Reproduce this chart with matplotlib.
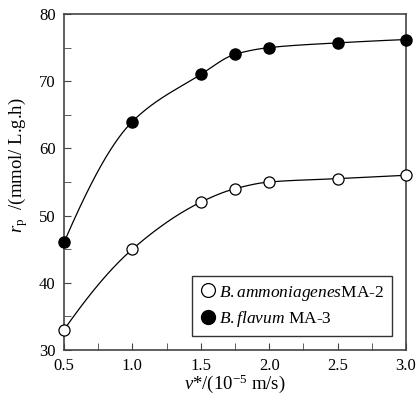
import matplotlib.pyplot as plt
import numpy as np
from matplotlib.ticker import MultipleLocator, FormatStrFormatter

plt.rcParams['font.family'] = ['Liberation Serif', 'DejaVu Serif']
plt.rcParams['mathtext.fontset'] = 'custom'
plt.rcParams['mathtext.rm'] = 'Liberation Serif'
plt.rcParams['mathtext.it'] = 'Liberation Serif:italic'

# Data
velocity = [0.5, 1.0, 1.5, 1.75, 2.0, 2.5, 3.0]
rate_ammoniagenes = [33, 45, 52, 54, 55, 55.5, 56]
rate_flavum = [46, 64, 71, 74, 75, 75.7, 76.2]


def pchip(x, y, xs):
    # monotone cubic (Fritsch-Carlson) for the smooth guide line
    x = np.asarray(x, float)
    y = np.asarray(y, float)
    h = np.diff(x)
    delta = np.diff(y) / h
    n = len(x)
    m = np.zeros(n)
    for i in range(1, n - 1):
        if delta[i - 1] * delta[i] > 0:
            w1 = 2 * h[i] + h[i - 1]
            w2 = h[i] + 2 * h[i - 1]
            m[i] = (w1 + w2) / (w1 / delta[i - 1] + w2 / delta[i])
    m[0] = ((2 * h[0] + h[1]) * delta[0] - h[0] * delta[1]) / (h[0] + h[1])
    m[-1] = ((2 * h[-1] + h[-2]) * delta[-1] - h[-1] * delta[-2]) / (h[-1] + h[-2])
    out = np.zeros_like(xs)
    for k, t in enumerate(xs):
        i = int(np.clip(np.searchsorted(x, t, side='right') - 1, 0, n - 2))
        s = (t - x[i]) / h[i]
        h00 = 2 * s ** 3 - 3 * s ** 2 + 1
        h10 = s ** 3 - 2 * s ** 2 + s
        h01 = -2 * s ** 3 + 3 * s ** 2
        h11 = s ** 3 - s ** 2
        out[k] = h00 * y[i] + h10 * h[i] * m[i] + h01 * y[i + 1] + h11 * h[i] * m[i + 1]
    return out


fig = plt.figure(figsize=(4.18, 4.19), dpi=100)
ax = fig.add_axes([64 / 418, 1 - 350 / 419, 342 / 418, 336 / 419])

xs = np.linspace(velocity[0], velocity[-1], 300)
ax.plot(xs, pchip(velocity, rate_ammoniagenes, xs), color='black', lw=0.9)
ax.plot(xs, pchip(velocity, rate_flavum, xs), color='black', lw=0.9)

ax.plot(velocity, rate_ammoniagenes, 'o', ms=8, mfc='white', mec='black', mew=0.9,
        clip_on=False, zorder=3, label=r'$\mathit{B{.}ammoniagenes}$MA-2')
ax.plot(velocity, rate_flavum, 'o', ms=8, mfc='black', mec='black',
        clip_on=False, zorder=3, label=r'$\mathit{B{.}flavum}$ MA-3')

ax.set_xlim(0.5, 3.0)
ax.set_ylim(30, 80)
ax.xaxis.set_major_locator(MultipleLocator(0.5))
ax.xaxis.set_minor_locator(MultipleLocator(0.25))
ax.yaxis.set_major_locator(MultipleLocator(10))
ax.yaxis.set_minor_locator(MultipleLocator(5))
ax.xaxis.set_major_formatter(FormatStrFormatter('%.1f'))
ax.tick_params(which='both', direction='in', labelsize=12, color='#444444')
ax.tick_params(which='major', length=5, pad=6)
ax.tick_params(which='minor', length=5)
for s in ax.spines.values():
    s.set_color('#444444')
    s.set_linewidth(1.2)

ax.set_xlabel(r'$\mathit{v}$*/(10$^{-5}$ m/s)', fontsize=13.5, labelpad=-1)
ax.set_ylabel(r'$\mathit{r}_\mathrm{p}$  /(mmol/ L.g.h)', fontsize=13.5)
ax.yaxis.set_label_coords(-0.1, 0.55)

leg = ax.legend(loc='lower right', bbox_to_anchor=(0.975, 0.025), fontsize=12.5,
                frameon=True, fancybox=False, edgecolor='black', handletextpad=0.2,
                handlelength=0.9, borderpad=0.45, labelspacing=0.35,
                borderaxespad=0.3, markerscale=1.25)
leg.get_frame().set_linewidth(1.0)

fig.savefig('out.png', dpi=100)
